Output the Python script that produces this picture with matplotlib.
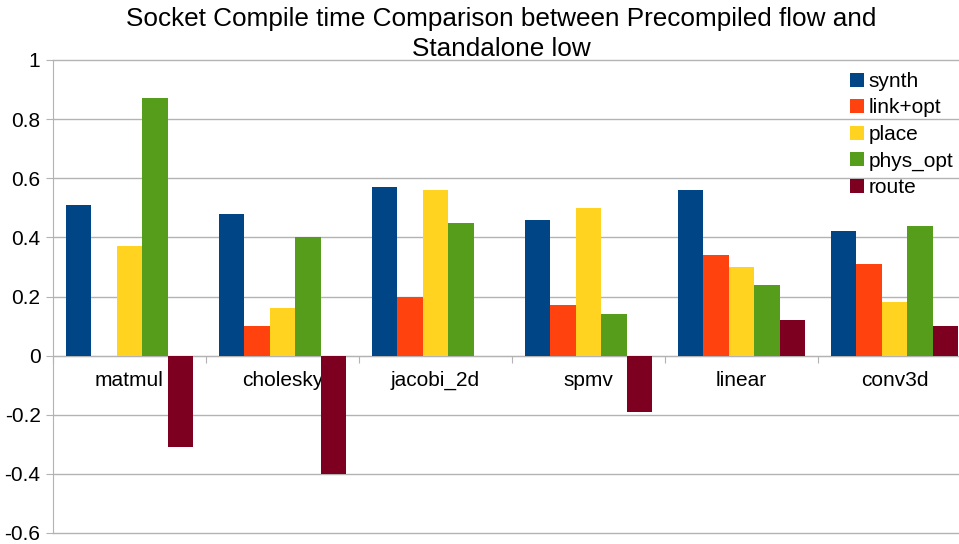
import matplotlib
matplotlib.use("Agg")
import matplotlib.pyplot as plt
import numpy as np
from matplotlib.ticker import FuncFormatter, FixedLocator

categories = ["matmul", "cholesky", "jacobi_2d", "spmv", "linear", "conv3d"]
synth = [0.51, 0.48, 0.57, 0.46, 0.56, 0.42]
link_opt = [0.0, 0.10, 0.20, 0.17, 0.34, 0.31]
place = [0.37, 0.16, 0.56, 0.50, 0.30, 0.18]
phys_opt = [0.87, 0.40, 0.45, 0.14, 0.24, 0.44]
route = [-0.31, -0.40, 0.0, -0.19, 0.12, 0.10]

series = [("synth", synth, "#004586"),
          ("link+opt", link_opt, "#ff420e"),
          ("place", place, "#ffd320"),
          ("phys_opt", phys_opt, "#579d1c"),
          ("route", route, "#7e0021")]

plt.rcParams['font.family'] = ['Liberation Sans', 'DejaVu Sans']

fig = plt.figure(figsize=(9.59, 5.44), dpi=100)
W, H = 959, 544
left, right_px, top, bottom = 53, 53 + 6 * 153, 60, 533
ax = fig.add_axes([left / W, (H - bottom) / H, (right_px - left) / W, (bottom - top) / H])

x = np.arange(len(categories))
bw = 1 / 6
for i, (name, vals, col) in enumerate(series):
    ax.bar(x - 2 * bw + i * bw, vals, width=bw, color=col, label=name,
           edgecolor='none', zorder=3)

ax.set_xlim(-0.5, len(categories) - 0.5)
ax.set_ylim(-0.6, 1.0)
ax.set_yticks(np.arange(-0.6, 1.01, 0.2))
ax.yaxis.set_major_formatter(FuncFormatter(lambda v, p: ("%g" % round(v, 2)) if abs(v) > 1e-9 else "0"))
ax.grid(axis='y', color='#b3b3b3', linewidth=1, zorder=0)
for gl in ax.get_ygridlines():
    gl.set_clip_on(False)
ax.tick_params(axis='y', length=5, color='#b3b3b3', labelsize=15, labelcolor='#000000', pad=4)

ax.spines['top'].set_visible(False)
ax.spines['right'].set_visible(False)
ax.spines['left'].set_color('#b3b3b3')
ax.spines['bottom'].set_position(('data', 0))
ax.spines['bottom'].set_color('#b3b3b3')

ax.xaxis.set_major_locator(FixedLocator(np.arange(-0.5, len(categories), 1.0)))
ax.xaxis.set_minor_locator(FixedLocator(x))
ax.xaxis.set_major_formatter(FuncFormatter(lambda v, p: ""))
ax.set_xticklabels(categories, minor=True)
ax.tick_params(axis='x', which='major', length=5, color='#b3b3b3', direction='out')
ax.tick_params(axis='x', which='minor', length=0, pad=11, labelsize=15)

leg = ax.legend(loc='upper left', bbox_to_anchor=((850 - left) / (right_px - left), (bottom - 72) / (bottom - top)),
                frameon=False, fontsize=15, handlelength=0.65, handleheight=0.65,
                handletextpad=0.25, labelspacing=0.36, borderaxespad=0, borderpad=0)

fig.text(501 / W, 1 - 34 / H, "Socket Compile time Comparison between Precompiled flow and\nStandalone low",
         ha='center', va='center', fontsize=18.8, linespacing=1.3)

fig.savefig("out.png", dpi=100)
